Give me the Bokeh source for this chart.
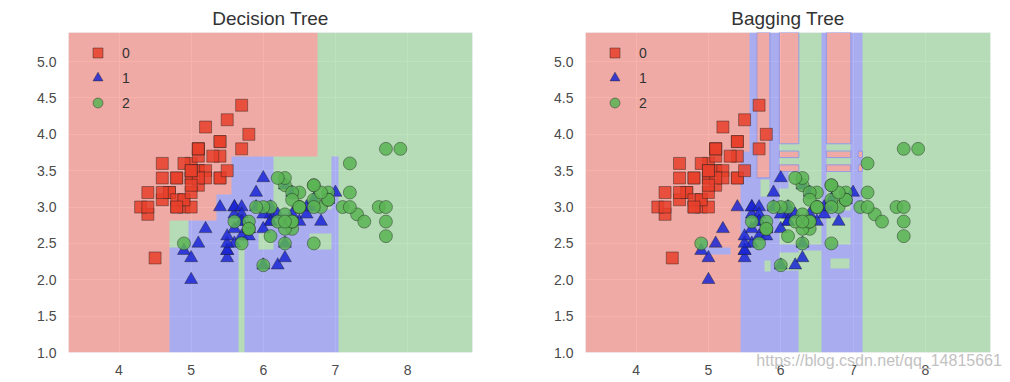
import numpy as np
from bokeh.plotting import figure
from bokeh.layouts import row
from bokeh.models import FixedTicker, LinearColorMapper
from bokeh.embed import file_html
from bokeh.resources import INLINE

# ---------------- data (iris: sepal length / sepal width) ----------------
setosa_x = [5.1, 4.9, 4.7, 4.6, 5.0, 5.4, 4.6, 5.0, 4.4, 4.9, 5.4, 4.8, 4.8, 4.3, 5.8, 5.7, 5.4, 5.1, 5.7, 5.1,
            5.4, 5.1, 4.6, 5.1, 4.8, 5.0, 5.0, 5.2, 5.2, 4.7, 4.8, 5.4, 5.2, 5.5, 4.9, 5.0, 5.5, 4.9, 4.4, 5.1,
            5.0, 4.5, 4.4, 5.0, 5.1, 4.8, 5.1, 4.6, 5.3, 5.0]
setosa_y = [3.5, 3.0, 3.2, 3.1, 3.6, 3.9, 3.4, 3.4, 2.9, 3.1, 3.7, 3.4, 3.0, 3.0, 4.0, 4.4, 3.9, 3.5, 3.8, 3.8,
            3.4, 3.7, 3.6, 3.3, 3.4, 3.0, 3.4, 3.5, 3.4, 3.2, 3.1, 3.4, 4.1, 4.2, 3.1, 3.2, 3.5, 3.6, 3.0, 3.4,
            3.5, 2.3, 3.2, 3.5, 3.8, 3.0, 3.8, 3.2, 3.7, 3.3]
versicolor_x = [7.0, 6.4, 6.9, 5.5, 6.5, 5.7, 6.3, 4.9, 6.6, 5.2, 5.0, 5.9, 6.0, 6.1, 5.6, 6.7, 5.6, 5.8, 6.2, 5.6,
                5.9, 6.1, 6.3, 6.1, 6.4, 6.6, 6.8, 6.7, 6.0, 5.7, 5.5, 5.5, 5.8, 6.0, 5.4, 6.0, 6.7, 6.3, 5.6, 5.5,
                5.5, 6.1, 5.8, 5.0, 5.6, 5.7, 5.7, 6.2, 5.1, 5.7]
versicolor_y = [3.2, 3.2, 3.1, 2.3, 2.8, 2.8, 3.3, 2.4, 2.9, 2.7, 2.0, 3.0, 2.2, 2.9, 2.9, 3.1, 3.0, 2.7, 2.2, 2.5,
                3.2, 2.8, 2.5, 2.8, 2.9, 3.0, 2.8, 3.0, 2.9, 2.6, 2.4, 2.4, 2.7, 2.7, 3.0, 3.4, 3.1, 2.3, 3.0, 2.5,
                2.6, 3.0, 2.6, 2.3, 2.7, 3.0, 2.9, 2.9, 2.5, 2.8]
virginica_x = [6.3, 5.8, 7.1, 6.3, 6.5, 7.6, 4.9, 7.3, 6.7, 7.2, 6.5, 6.4, 6.8, 5.7, 5.8, 6.4, 6.5, 7.7, 7.7, 6.0,
               6.9, 5.6, 7.7, 6.3, 6.7, 7.2, 6.2, 6.1, 6.4, 7.2, 7.4, 7.9, 6.4, 6.3, 6.1, 7.7, 6.3, 6.4, 6.0, 6.9,
               6.7, 6.9, 5.8, 6.8, 6.7, 6.7, 6.3, 6.5, 6.2, 5.9]
virginica_y = [3.3, 2.7, 3.0, 2.9, 3.0, 3.0, 2.5, 2.9, 2.5, 3.6, 3.2, 2.7, 3.0, 2.5, 2.8, 3.2, 3.0, 3.8, 2.6, 2.2,
               3.2, 2.8, 2.8, 2.7, 3.3, 3.2, 2.8, 3.0, 2.8, 3.0, 2.8, 3.8, 2.8, 2.8, 2.6, 3.0, 3.4, 3.1, 3.0, 3.1,
               3.1, 3.1, 2.7, 3.2, 3.3, 3.0, 2.5, 3.0, 3.4, 3.0]

class_labels = ["0", "1", "2"]
titles = ["Decision Tree", "Bagging Tree"]
watermark = "https://blog.csdn.net/qq_14815661"

x_ticks = [4, 5, 6, 7, 8]
x_tick_labels = ["4", "5", "6", "7", "8"]
y_ticks = [1.0, 1.5, 2.0, 2.5, 3.0, 3.5, 4.0, 4.5, 5.0]
y_tick_labels = ["1.0", "1.5", "2.0", "2.5", "3.0", "3.5", "4.0", "4.5", "5.0"]

# Decision regions: rectangles painted in order over class 0
dt_x0 = [6.75, 4.70, 4.70, 4.96, 5.35, 5.56, 6.14, 6.14, 6.95, 5.65, 5.93, 6.64]
dt_x1 = [8.90, 7.04, 4.96, 5.35, 5.56, 6.14, 6.95, 7.04, 7.04, 5.74, 6.14, 6.95]
dt_y0 = [1.00, 1.00, 2.44, 2.44, 2.44, 2.44, 2.97, 2.44, 2.97, 1.00, 2.42, 2.42]
dt_y1 = [5.40, 2.44, 2.81, 2.81, 3.17, 3.70, 3.70, 2.97, 3.70, 2.50, 2.63, 2.63]
dt_cls = [2, 1, 2, 1, 1, 1, 2, 1, 1, 2, 2, 2]

bag_x0 = [6.25, 7.13, 5.44, 5.57, 5.85, 6.56, 6.97, 5.67, 5.98, 6.63, 5.98, 6.63,
          5.98, 5.98, 6.63, 6.63, 7.07, 7.07, 5.98, 5.98, 6.45, 5.44, 6.56, 7.07,
          5.77, 5.98, 6.69, 4.87, 4.87, 5.72]
bag_x1 = [6.56, 8.90, 6.25, 5.67, 5.98, 6.63, 7.13, 5.85, 6.25, 6.97, 6.25, 6.97,
          6.25, 6.25, 6.97, 6.97, 7.13, 7.13, 6.10, 6.25, 6.97, 7.13, 7.07, 7.13,
          5.86, 6.25, 6.95, 5.30, 4.98, 5.85]
bag_y0 = [1.00, 1.00, 1.00, 1.00, 1.00, 1.00, 1.00, 3.40, 3.87, 3.87, 2.45, 2.45,
          3.68, 3.49, 3.68, 3.49, 3.68, 3.49, 3.25, 2.86, 2.86, 2.40, 1.00, 2.30,
          2.12, 2.13, 2.15, 2.35, 2.45, 3.15]
bag_y1 = [5.40, 5.40, 3.77, 5.40, 5.40, 5.40, 5.40, 5.40, 5.40, 5.40, 3.87, 3.87,
          3.77, 3.58, 3.77, 3.58, 3.77, 3.58, 3.49, 2.95, 2.95, 2.49, 2.40, 2.49,
          2.26, 2.38, 2.29, 2.45, 2.55, 3.38]
bag_cls = [2, 2, 1, 1, 1, 1, 1, 0, 0, 0, 2, 2,
           0, 0, 0, 0, 0, 0, 1, 1, 1, 1, 1, 1,
           2, 2, 2, 1, 1, 2]

# ---------------- styling ----------------
REGION_SRC = ["#F47F72", "#7E84EF", "#93D190"]   # drawn with alpha over the grey background
EDGE_BLUE = "#8f93e8"
MARK_FILL = ["#E8402A", "#1A26D4", "#5AB454"]
MARK_KIND = ["square", "triangle", "circle"]
MARK_SIZE = [12, 13, 13]
FONT = "Liberation Sans"

all_x = setosa_x + versicolor_x + virginica_x
all_y = setosa_y + versicolor_y + virginica_y
x_min, x_max = min(all_x) - 1, max(all_x) + 1
y_min, y_max = min(all_y) - 1, max(all_y) + 1

FH = 320
TOP, BOTTOM = 32, 30
RES = 0.01
LEG_ROW = 25
WM_PAD = 41   # leading no-break spaces that shift the centred watermark to the right


def class_grid(x0s, x1s, y0s, y1s, cls):
    xs = np.arange(x_min, x_max - 1e-9, RES) + RES / 2
    ys = np.arange(y_min, y_max - 1e-9, RES) + RES / 2
    XX, YY = np.meshgrid(xs, ys)
    Z = np.zeros(XX.shape, dtype=np.uint8)
    for a, b, c, d, k in zip(x0s, x1s, y0s, y1s, cls):
        Z[(XX >= a) & (XX < b) & (YY >= c) & (YY < d)] = k
    return Z


def make_fig(title, rects, left_border, right_border, fw, outline_red=False):
    p = figure(title=title, x_range=(x_min, x_max), y_range=(y_min, y_max),
               frame_width=fw, frame_height=FH,
               min_border_left=left_border, min_border_right=right_border,
               min_border_top=TOP, min_border_bottom=BOTTOM,
               output_backend="svg", toolbar_location=None,
               background_fill_color="#EAEAF2", border_fill_color="white",
               outline_line_color=None)
    p.title.align = "center"
    p.title.text_font = FONT
    p.title.text_font_size = "19px"
    p.title.text_font_style = "normal"
    p.title.text_color = "#333333"
    p.title.standoff = 8

    mapper = LinearColorMapper(palette=REGION_SRC, low=0, high=2)
    Z = class_grid(*rects)
    p.image(image=[Z], x=x_min, y=y_min, dw=x_max - x_min, dh=y_max - y_min,
            color_mapper=mapper, global_alpha=0.6)

    if outline_red:
        x0s, x1s, y0s, y1s, cls = rects
        sel = [i for i, k in enumerate(cls) if k == 0]
        p.quad(left=[x0s[i] for i in sel], right=[x1s[i] for i in sel],
               bottom=[y0s[i] for i in sel], top=[y1s[i] for i in sel],
               fill_color=None, line_color=EDGE_BLUE, line_width=1, line_alpha=0.9)

    groups = [(setosa_x, setosa_y), (versicolor_x, versicolor_y), (virginica_x, virginica_y)]
    for i, (gx, gy) in enumerate(groups):
        p.scatter(gx, gy, marker=MARK_KIND[i], size=MARK_SIZE[i],
                  fill_color=MARK_FILL[i], fill_alpha=0.85,
                  line_color="#222222", line_alpha=0.55, line_width=0.8,
                  legend_label=class_labels[i])

    p.xaxis.ticker = FixedTicker(ticks=x_ticks)
    p.xaxis.major_label_overrides = dict(zip(x_ticks, x_tick_labels))
    p.yaxis.ticker = FixedTicker(ticks=y_ticks)
    p.yaxis.major_label_overrides = dict(zip(y_ticks, y_tick_labels))
    for ax in (p.xaxis[0], p.yaxis[0]):
        ax.axis_line_color = None
        ax.major_tick_line_color = None
        ax.minor_tick_line_color = None
        ax.major_tick_out = 0
        ax.major_tick_in = 0
        ax.major_label_text_font = FONT
        ax.major_label_text_font_size = "14px"
        ax.major_label_text_color = "#4a4a4a"
    p.xaxis.major_label_standoff = 12
    p.yaxis.major_label_standoff = 12
    p.grid.grid_line_color = "white"
    p.grid.grid_line_width = 1.2

    leg = p.legend[0]
    leg.background_fill_alpha = 0
    leg.border_line_color = None
    leg.glyph_width = LEG_ROW
    leg.glyph_height = LEG_ROW
    leg.label_height = LEG_ROW
    leg.spacing = 0
    leg.padding = 0
    leg.margin = 0
    leg.label_standoff = 12
    leg.label_text_font = FONT
    leg.label_text_font_size = "14px"
    leg.label_text_color = "#333333"
    leg.location = (17, FH - 8 - 3 * LEG_ROW)
    return p


p1 = make_fig(titles[0], (dt_x0, dt_x1, dt_y0, dt_y1, dt_cls), 68, 28, 404)
p2 = make_fig(titles[1], (bag_x0, bag_x1, bag_y0, bag_y1, bag_cls), 85, 20, 405, outline_red=True)

# faint watermark overlapping the x tick-label row of the right panel
xa = p2.xaxis[0]
xa.axis_label = "\u00a0" * WM_PAD + watermark
xa.axis_label_text_font = FONT
xa.axis_label_text_font_size = "16px"
xa.axis_label_text_font_style = "normal"
xa.axis_label_text_color = "#c2c2c2"
xa.axis_label_standoff = -26

layout = row(p1, p2)
open("out.html", "w").write(file_html(layout, INLINE))
